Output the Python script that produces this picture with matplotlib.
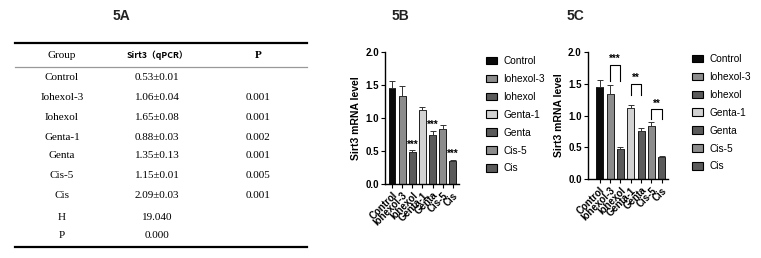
import matplotlib
matplotlib.use("Agg")
import matplotlib.pyplot as plt
from matplotlib.patches import Patch

# ---------------- data ----------------
groups = ["Control", "Iohexol-3", "Iohexol", "Genta-1", "Genta", "Cis-5", "Cis"]
table_mean = [0.53, 1.06, 1.65, 0.88, 1.35, 1.15, 2.09]
table_sd = [0.01, 0.04, 0.08, 0.03, 0.13, 0.01, 0.03]
table_p = ["", "0.001", "0.001", "0.002", "0.001", "0.005", "0.001"]
stat_H = "19.040"
stat_P = "0.000"

bar_means = [1.45, 1.34, 0.48, 1.12, 0.75, 0.83, 0.35]
bar_errs = [0.11, 0.14, 0.03, 0.05, 0.06, 0.07, 0.02]
bar_colors = ["#0a0a0a", "#8c8c8c", "#5a5a5a", "#d2d2d2", "#5a5a5a", "#8c8c8c", "#5a5a5a"]
stars_b = ["", "", "***", "", "***", "", "***"]
brackets_c = [(1, 2, 1.55, 1.80, "***"), (3, 4, 1.32, 1.50, "**"), (5, 6, 0.94, 1.10, "**")]

W, H = 761, 258
fig = plt.figure(figsize=(W / 100, H / 100), dpi=100)
fig.patch.set_facecolor("white")

def fx(px):
    return px / W

def fy(py):
    return 1 - py / H

sans = "Liberation Sans"
serif = "Liberation Serif"

# ---------------- titles ----------------
for t, x in [("5A", 121), ("5B", 400), ("5C", 575)]:
    fig.text(fx(x), fy(16), t, ha="center", va="center", fontsize=10,
             fontweight="bold", family=sans, color="#222222")

# ---------------- table (5A) ----------------
tax = fig.add_axes([0, 0, 1, 1])
tax.set_xlim(0, W)
tax.set_ylim(H, 0)
tax.axis("off")
x0, x1 = 15, 307
tax.plot([x0, x1], [43, 43], color="black", lw=1.6)
tax.plot([x0, x1], [67, 67], color="#999999", lw=0.9)
tax.plot([x0, x1], [247, 247], color="black", lw=1.6)
cx = [62, 157, 258]
tfs = 8
tax.text(cx[0], 55, "Group", ha="center", va="center", fontsize=tfs, family=serif)
tax.text(cx[1], 55, "Sirt3（qPCR）", ha="center", va="center", fontsize=6.3,
         family=["Noto Sans CJK SC", serif], fontweight="bold")
tax.text(cx[2], 55, "P", ha="center", va="center", fontsize=tfs, family=serif, fontweight="bold")
row_y = [78, 98, 117, 137, 156, 176, 196]
for g, m, s, p, y in zip(groups, table_mean, table_sd, table_p, row_y):
    tax.text(cx[0], y, g, ha="center", va="center", fontsize=tfs, family=serif)
    tax.text(cx[1], y, f"{m:.2f}±{s:.2f}", ha="center", va="center", fontsize=tfs, family=serif)
    if p:
        tax.text(cx[2], y, p, ha="center", va="center", fontsize=tfs, family=serif)
tax.text(cx[0], 217, "H", ha="center", va="center", fontsize=tfs, family=serif)
tax.text(cx[1], 217, stat_H, ha="center", va="center", fontsize=tfs, family=serif)
tax.text(cx[0], 236, "P", ha="center", va="center", fontsize=tfs, family=serif)
tax.text(cx[1], 236, stat_P, ha="center", va="center", fontsize=tfs, family=serif)


def bar_panel(left, right, top, bottom, xlo, xhi):
    ax = fig.add_axes([fx(left), fy(bottom), fx(right - left), (bottom - top) / H])
    x = list(range(len(groups)))
    ax.bar(x, bar_means, width=0.68, color=bar_colors, edgecolor="black", linewidth=0.6,
           yerr=[[0] * len(bar_errs), bar_errs], capsize=2,
           error_kw=dict(elinewidth=0.7, capthick=0.7, ecolor="#333333"))
    ax.set_ylim(0, 2.0)
    ax.set_xlim(xlo, xhi)
    ax.set_yticks([0, 0.5, 1.0, 1.5, 2.0])
    ax.set_yticklabels(["0.0", "0.5", "1.0", "1.5", "2.0"])
    ax.set_xticks(x)
    ax.set_xticklabels(groups, rotation=45, ha="right", rotation_mode="anchor")
    for lab in ax.get_xticklabels() + ax.get_yticklabels():
        lab.set_fontweight("bold")
        lab.set_fontsize(7)
        lab.set_family(sans)
    ax.tick_params(axis="both", length=3, width=0.8, pad=1.5)
    ax.spines["top"].set_visible(False)
    ax.spines["right"].set_visible(False)
    ax.spines["left"].set_linewidth(1.0)
    ax.spines["bottom"].set_linewidth(1.0)
    ax.set_ylabel("Sirt3 mRNA level", fontsize=7.5, fontweight="bold", family=sans, labelpad=3)
    ax.set_facecolor("none")
    return ax


def add_legend(px, py):
    handles = [Patch(facecolor=c, edgecolor="black", linewidth=0.8) for c in bar_colors]
    fig.legend(handles, groups, loc="upper left", bbox_to_anchor=(fx(px), fy(py)),
               frameon=False, handlelength=1.1, handleheight=0.75,
               handletextpad=0.6, labelspacing=0.78, borderpad=0, borderaxespad=0,
               prop={"family": sans, "size": 7.3})


# ---------------- 5B ----------------
axb = bar_panel(385, 459, 52, 184, -0.69, 6.6)
for i, s in enumerate(stars_b):
    if s:
        axb.text(i, bar_means[i] + bar_errs[i] + 0.01, s, ha="center", va="bottom",
                 fontsize=7, family=sans, fontweight="bold")
add_legend(486, 56)

# ---------------- 5C ----------------
axc = bar_panel(588, 668, 52, 179, -1.13, 6.6)
for a, b, lo, hi, s in brackets_c:
    axc.plot([a, a, b, b], [lo, hi, hi, lo], color="black", lw=0.8)
    axc.text((a + b) / 2, hi + 0.01, s, ha="center", va="bottom", fontsize=7,
             family=sans, fontweight="bold")
add_legend(692, 54)

fig.savefig("out.png", dpi=100)
